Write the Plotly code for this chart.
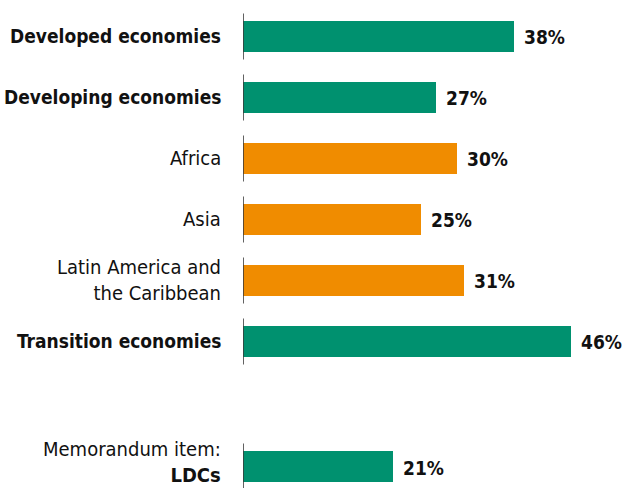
import plotly.graph_objects as go

# Share of each economy group (per cent)
categories = [
    "Developed economies",
    "Developing economies",
    "Africa",
    "Asia",
    "Latin America and<br>the Caribbean",
    "Transition economies",
    "Memorandum item:<br><b>LDCs</b>",
]
values = [38, 27, 30, 25, 31, 46, 21]
is_region = [False, False, True, True, True, False, False]
bold_label = [True, True, False, False, False, True, False]

GREEN = "#00916F"
ORANGE = "#F08C00"
FONT = "DejaVu Sans Condensed, DejaVu Sans, sans-serif"
TEXT = "#111111"

# vertical slots: the memorandum item sits after an empty slot
positions = []
slot = 0.0
for i, c in enumerate(categories):
    if i == len(categories) - 1:
        slot += 1.05
    positions.append(slot)
    slot += 1

colors = [ORANGE if r else GREEN for r in is_region]

fig = go.Figure(
    go.Bar(
        x=values,
        y=positions,
        orientation="h",
        marker=dict(color=colors, line=dict(width=0)),
        width=0.51,
        hoverinfo="skip",
    )
)

# value labels to the right of each bar
for v, p in zip(values, positions):
    fig.add_annotation(
        x=v, y=p, xref="x", yref="y",
        text=f"<b>{v}%</b>",
        showarrow=False, xanchor="left", yanchor="middle",
        xshift=8, yshift=-1,
        font=dict(family=FONT, size=19, color=TEXT),
    )

# category labels, right-aligned against the axis
last = len(categories) - 1
for i, (c, b, p) in enumerate(zip(categories, bold_label, positions)):
    fig.add_annotation(
        x=0, y=p, xref="x", yref="y",
        text=f"<b>{c}</b>" if b else c,
        showarrow=False, xanchor="right", yanchor="middle", align="right",
        xshift=-20, yshift=5 if i == last else 0,
        font=dict(family=FONT, size=19 if b else 20, color=TEXT),
    )

# short axis segments beside each bar
for p in positions:
    fig.add_shape(
        type="line", xref="x", yref="y",
        x0=0, x1=0, y0=p - 0.377, y1=p + 0.377,
        line=dict(color="#3a3a3a", width=1.6),
    )

fig.update_layout(
    width=624, height=488,
    margin=dict(l=243, r=0, t=0, b=0),
    paper_bgcolor="white", plot_bgcolor="white",
    showlegend=False,
    bargap=0,
    xaxis=dict(range=[0, 53.4], visible=False, fixedrange=True, automargin=False),
    yaxis=dict(range=[7.402, -0.598], visible=False, fixedrange=True, automargin=False),
)

fig.write_html("out.html")
